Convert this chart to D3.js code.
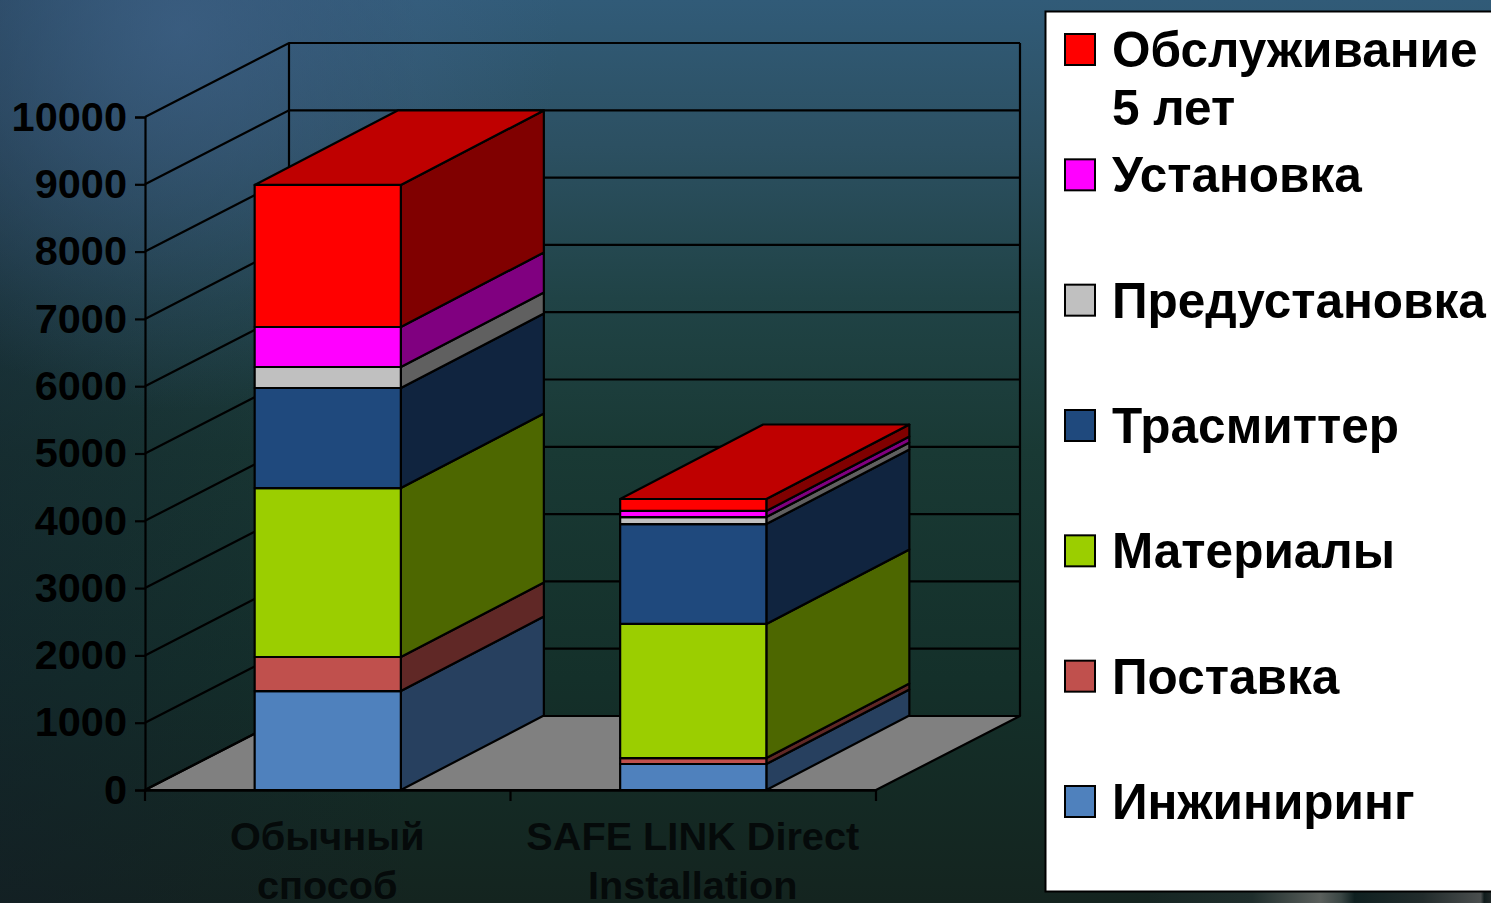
<!DOCTYPE html>
<html>
<head>
<meta charset="utf-8">
<script src="https://cdn.jsdelivr.net/npm/d3@7"></script>
<style>
  html, body { margin: 0; padding: 0; background: #14211f; overflow: hidden; }
  text { font-family: "Liberation Sans", Arial, sans-serif; font-weight: bold; fill: #000; }
</style>
</head>
<body>
<div id="chart"></div>
<script>
// Values
var categories = ['Обычный способ', 'SAFE LINK Direct Installation'];
var categoryLines = [['Обычный', 'способ'], ['SAFE LINK Direct', 'Installation']];
var yTicks = [0, 1000, 2000, 3000, 4000, 5000, 6000, 7000, 8000, 9000, 10000];

var engineering = [1470, 386];
var delivery = [506, 89];
var materials = [2511, 1992];
var transmitter = [1486, 1485];
var preinstall = [312, 104];
var install = [595, 90];
var service = [2110, 178];

// bottom to top
var seriesNames = ['Инжиниринг', 'Поставка', 'Материалы', 'Трасмиттер', 'Предустановка', 'Установка', 'Обслуживание'];
var seriesValues = [engineering, delivery, materials, transmitter, preinstall, install, service];
var frontColors = ['#4f81bd', '#c0504d', '#9bce00', '#1f497d', '#c0c0c0', '#ff00ff', '#ff0000'];
var sideColors = ['#27405f', '#602826', '#4d6700', '#10243f', '#606060', '#800080', '#800000'];
var topColor = '#bf0000';

// legend runs top to bottom
var legendLines = [['Обслуживание', '5 лет'], ['Установка'], ['Предустановка'], ['Трасмиттер'], ['Материалы'], ['Поставка'], ['Инжиниринг']];
var legendColors = ['#ff0000', '#ff00ff', '#c0c0c0', '#1f497d', '#9bce00', '#c0504d', '#4f81bd'];

var width = 1491, height = 903;
var depthX = 144, depthY = -74;
var barDepthX = 143, barDepthY = -74.5;
var lineW = 2.2;

var svg = d3.select('#chart').append('svg')
  .attr('width', width)
  .attr('height', height)
  .style('display', 'block');

// Slide background
var defs = svg.append('defs');
var bgLinear = defs.append('linearGradient').attr('id', 'bgLinear')
  .attr('x1', 0).attr('y1', 0).attr('x2', 0).attr('y2', 1);
[[0, '#315b78'], [0.16, '#2c5062'], [0.33, '#204346'], [0.5, '#193934'], [0.75, '#14302a'], [1, '#14241f']].forEach(function(s) {
  bgLinear.append('stop').attr('offset', s[0]).attr('stop-color', s[1]);
});
var bgGlow = defs.append('radialGradient').attr('id', 'bgGlow')
  .attr('gradientUnits', 'userSpaceOnUse')
  .attr('cx', 180).attr('cy', 30).attr('r', 380);
bgGlow.append('stop').attr('offset', 0).attr('stop-color', '#3f6288').attr('stop-opacity', 0.75);
bgGlow.append('stop').attr('offset', 1).attr('stop-color', '#3f6288').attr('stop-opacity', 0);
var bgLeft = defs.append('linearGradient').attr('id', 'bgLeft')
  .attr('x1', 0).attr('y1', 0).attr('x2', 1).attr('y2', 0);
bgLeft.append('stop').attr('offset', 0).attr('stop-color', '#111a2a').attr('stop-opacity', 0.4);
bgLeft.append('stop').attr('offset', 1).attr('stop-color', '#111a2a').attr('stop-opacity', 0);
var streak = defs.append('linearGradient').attr('id', 'streak')
  .attr('x1', 0).attr('y1', 0).attr('x2', 1).attr('y2', 0);
[[0, '#162623'], [0.3, '#1f2e2c'], [0.5, '#5a5f5c'], [0.56, '#3a4644'], [0.6, '#0f2020'], [0.8, '#222c2c'], [0.97, '#4a4e4e'], [0.98, '#101c1c'], [1, '#202828']].forEach(function(s) {
  streak.append('stop').attr('offset', s[0]).attr('stop-color', s[1]);
});

svg.append('rect').attr('width', width).attr('height', height).attr('fill', 'url(#bgLinear)');
svg.append('rect').attr('width', 420).attr('height', height).attr('fill', 'url(#bgLeft)');
svg.append('rect').attr('width', width).attr('height', height).attr('fill', 'url(#bgGlow)');
svg.append('rect').attr('x', 1150).attr('y', 892).attr('width', 341).attr('height', 11).attr('fill', 'url(#streak)');

// Scales
var x = d3.scaleBand().domain(categories).range([145, 876]).paddingInner(0.6).paddingOuter(0.3);
var y = d3.scaleLinear().domain([0, 10000]).range([790, 117]);
var x0 = x.range()[0], x1 = x.range()[1];

var line = d3.line();
function poly(g, pts, fill) {
  return g.append('path')
    .attr('d', line(pts) + 'Z')
    .attr('fill', fill)
    .attr('stroke', '#000')
    .attr('stroke-width', lineW)
    .attr('stroke-linejoin', 'round');
}

// Floor
var walls = svg.append('g');
poly(walls, [[x0, y(0)], [x1, y(0)], [x1 + depthX, y(0) + depthY], [x0 + depthX, y(0) + depthY]], '#808080');

// Gridlines on both walls
yTicks.forEach(function(t) {
  walls.append('path')
    .attr('d', line([[x0, y(t)], [x0 + depthX, y(t) + depthY], [x1 + depthX, y(t) + depthY]]))
    .attr('fill', 'none').attr('stroke', '#000').attr('stroke-width', lineW);
});
// Wall edges
walls.append('path')
  .attr('d', line([[x0 + depthX, y(0) + depthY], [x0 + depthX, y(10000) + depthY]]))
  .attr('stroke', '#000').attr('stroke-width', lineW);
walls.append('path')
  .attr('d', line([[x1 + depthX, y(0) + depthY], [x1 + depthX, y(10000) + depthY]]))
  .attr('stroke', '#000').attr('stroke-width', lineW);

// Stacked bars
var rows = categories.map(function(c, i) {
  var row = { category: c };
  seriesNames.forEach(function(n, j) { row[n] = seriesValues[j][i]; });
  return row;
});
var stacked = d3.stack().keys(seriesNames)(rows);

var bars = svg.append('g');
categories.forEach(function(c, i) {
  var left = x(c), right = x(c) + x.bandwidth();
  stacked.forEach(function(s, j) {
    var lo = y(s[i][0]), hi = y(s[i][1]);
    poly(bars, [[right, lo], [right + barDepthX, lo + barDepthY], [right + barDepthX, hi + barDepthY], [right, hi]], sideColors[j]);
    poly(bars, [[left, lo], [right, lo], [right, hi], [left, hi]], frontColors[j]);
  });
  var top = y(stacked[stacked.length - 1][i][1]);
  poly(bars, [[left, top], [right, top], [right + barDepthX, top + barDepthY], [left + barDepthX, top + barDepthY]], topColor);
});

// Axes
var yAxis = svg.append('g').attr('transform', 'translate(' + x0 + ',0)')
  .call(d3.axisLeft(y).tickValues(yTicks).tickFormat(d3.format('d')).tickSize(10).tickPadding(8));
var xAxis = svg.append('g').attr('transform', 'translate(0,' + y(0) + ')')
  .call(d3.axisBottom(x).tickSize(0).tickFormat(''));
yAxis.selectAll('path, line').attr('stroke', '#000').attr('stroke-width', lineW);
yAxis.selectAll('text')
  .style('font-size', '41.5px')
  .style('font-family', '"Liberation Sans"')
  .attr('dy', '0.32em')
  .attr('fill', '#000');
xAxis.select('.domain').attr('stroke', '#000').attr('stroke-width', 2.5);

// Ticks between categories sit on band edges
var step = x.step();
[0, 1, 2].forEach(function(i) {
  xAxis.append('line')
    .attr('x1', x0 + i * step).attr('x2', x0 + i * step)
    .attr('y1', 0).attr('y2', 11)
    .attr('stroke', '#000').attr('stroke-width', lineW);
});

// Category labels
categories.forEach(function(c, i) {
  var t = svg.append('text')
    .attr('text-anchor', 'middle')
    .style('font-size', '39.7px')
    .style('fill', '#050a0a');
  categoryLines[i].forEach(function(l, k) {
    t.append('tspan')
      .attr('x', x(c) + x.bandwidth() / 2 - 0.5)
      .attr('y', 850 + k * 49)
      .text(l);
  });
});

// Legend
var legend = svg.append('g');
legend.append('rect')
  .attr('x', 1045.5).attr('y', 11.5).attr('width', 460).attr('height', 880)
  .attr('fill', '#fff').attr('stroke', '#000').attr('stroke-width', 2);

var legendY = d3.scalePoint().domain(d3.range(legendLines.length)).range([49, 801]);
legendLines.forEach(function(lines, i) {
  legend.append('rect')
    .attr('x', 1065).attr('y', legendY(i) - 15).attr('width', 30).attr('height', 31)
    .attr('fill', legendColors[i]).attr('stroke', '#000').attr('stroke-width', 2);
  lines.forEach(function(l, k) {
    legend.append('text')
      .attr('x', 1112)
      .attr('y', legendY(i) + 18 + k * 58)
      .style('font-size', '49.5px')
      .text(l);
  });
});
</script>
</body>
</html>
